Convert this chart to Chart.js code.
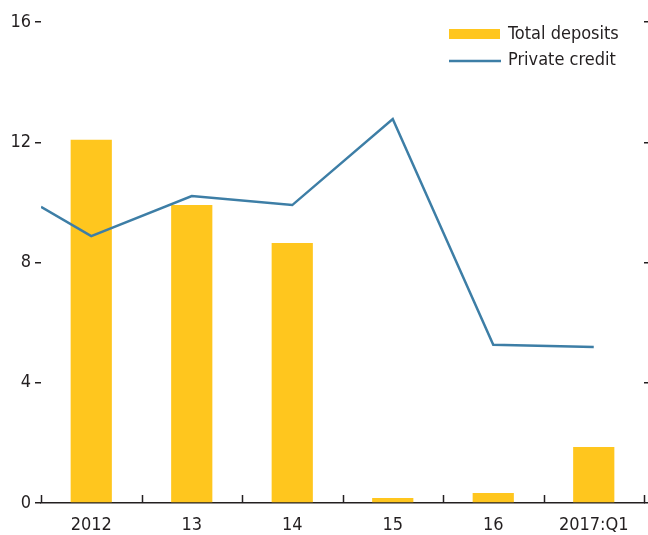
<!DOCTYPE html>
<html><head><meta charset="utf-8">
<script src="https://cdn.jsdelivr.net/npm/chart.js@4.4.1/dist/chart.umd.min.js"></script>
<style>html,body{margin:0;padding:0;background:#fff}#wrap{width:648px;height:535px}</style>
</head><body><div id="wrap"><canvas id="c" width="648" height="535"></canvas></div>
<script>
// ---- data ----
const categories = ['2012', '13', '14', '15', '16', '2017:Q1'];
const depositValues = [12.08, 9.91, 8.65, 0.17, 0.33, 1.86];
const creditPositions = [-0.5, 0, 1, 2, 3, 4, 5];
const creditValues = [9.85, 8.88, 10.21, 9.91, 12.77, 5.26, 5.19];
const yTicks = [0, 4, 8, 12, 16];
const seriesLabels = ['Total deposits', 'Private credit'];

const YELLOW = '#FFC61E';
const BLUE = '#3D7EA6';
const INK = '#231F20';
const FONT = "'Liberation Sans Narrow', 'DejaVu Sans Condensed', 'Roboto Condensed', 'Liberation Sans', sans-serif";
Chart.defaults.font.family = FONT;
Chart.defaults.color = INK;

const boundaryTicks = {
  id: 'boundaryTicks',
  afterDatasetsDraw(chart) {
    const x = chart.scales.x, y = chart.scales.y;
    const ctx = chart.ctx;
    const base = y.getPixelForValue(0);
    ctx.save();
    ctx.strokeStyle = INK;
    ctx.lineWidth = 1.5;
    for (let i = 0; i <= categories.length; i++) {
      const px = Math.round(x.getPixelForValue(i - 0.5)) + 0.5;
      ctx.beginPath();
      ctx.moveTo(px, base);
      ctx.lineTo(px, base - 8);
      ctx.stroke();
    }
    ctx.restore();
  }
};

const customLegend = {
  id: 'customLegend',
  afterDraw(chart) {
    const ctx = chart.ctx;
    const barDs = chart.data.datasets.find(d => d.type === 'bar');
    const lineDs = chart.data.datasets.find(d => d.type === 'line');
    ctx.save();
    ctx.font = '18px ' + FONT;
    ctx.textBaseline = 'middle';
    ctx.textAlign = 'left';
    ctx.fillStyle = barDs.backgroundColor;
    ctx.fillRect(449, 29, 51, 10);
    ctx.fillStyle = INK;
    ctx.fillText(barDs.label, 508, 34);
    ctx.strokeStyle = lineDs.borderColor;
    ctx.lineWidth = 2.5;
    ctx.beginPath();
    ctx.moveTo(449, 61);
    ctx.lineTo(501, 61);
    ctx.stroke();
    ctx.fillText(lineDs.label, 508, 60);
    ctx.restore();
  }
};

new Chart(document.getElementById('c'), {
  data: {
    labels: categories,
    datasets: [
      {
        type: 'line',
        label: seriesLabels[1],
        data: creditPositions.map((p, i) => ({ x: p, y: creditValues[i] })),
        xAxisID: 'xl',
        yAxisID: 'y',
        borderColor: BLUE,
        borderWidth: 2.5,
        pointRadius: 0,
        tension: 0,
        fill: false,
        order: 0
      },
      {
        type: 'bar',
        label: seriesLabels[0],
        data: depositValues,
        xAxisID: 'x',
        yAxisID: 'y',
        backgroundColor: YELLOW,
        borderWidth: 0,
        grouped: false,
        barPercentage: 0.41,
        categoryPercentage: 1,
        order: 1
      }
    ]
  },
  options: {
    responsive: false,
    devicePixelRatio: 1,
    animation: false,
    layout: { padding: { top: 22, left: 0, right: 0, bottom: 0 } },
    plugins: { legend: { display: false }, tooltip: { enabled: false } },
    scales: {
      x: {
        type: 'category',
        offset: true,
        grid: { display: false, drawTicks: false },
        border: { display: true, color: INK, width: 1.5 },
        ticks: { font: { size: 18 }, color: INK, padding: 12, maxRotation: 0, autoSkip: false },
        afterFit(s) { s.height = 32; }
      },
      xl: {
        type: 'linear',
        display: false,
        min: -0.5,
        max: 5.5
      },
      y: {
        position: 'left',
        min: 0, max: 16,
        afterBuildTicks(s) { s.ticks = yTicks.map(v => ({ value: v })); },
        grid: { display: true, drawOnChartArea: false, drawTicks: true, tickLength: 6, tickColor: INK, lineWidth: 1.5 },
        border: { display: false },
        ticks: { font: { size: 18 }, color: INK, padding: 4 },
        afterFit(s) { s.width = 41; }
      },
      yr: {
        position: 'right',
        min: 0, max: 16,
        afterBuildTicks(s) { s.ticks = yTicks.map(v => ({ value: v })); },
        grid: { display: true, drawOnChartArea: false, drawTicks: true, tickLength: 4, tickColor: INK, lineWidth: 1.5 },
        border: { display: false },
        ticks: { display: false },
        afterFit(s) { s.width = 4; }
      }
    }
  },
  plugins: [boundaryTicks, customLegend]
});
</script>
</body></html>
